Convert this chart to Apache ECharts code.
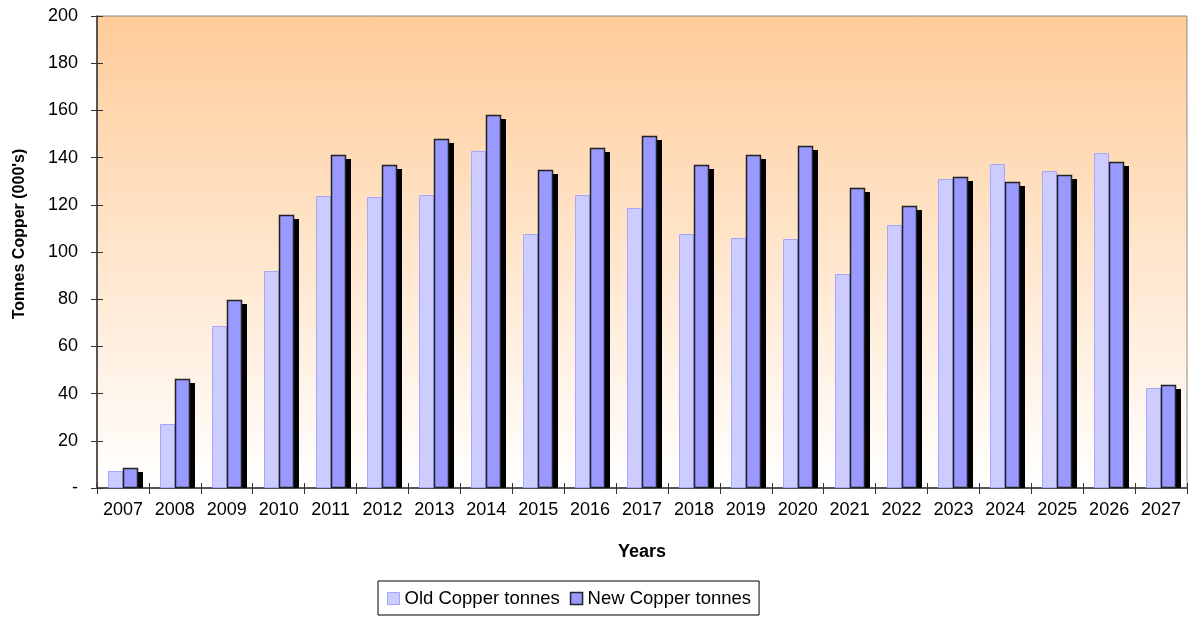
<!DOCTYPE html>
<html><head><meta charset="utf-8">
<script src="https://cdn.jsdelivr.net/npm/echarts@6/dist/echarts.min.js"></script>
<style>html,body{margin:0;padding:0;background:#fff}#c{width:1192px;height:619px}</style>
</head><body><div id="c"></div>
<script>
const years = ['2007','2008','2009','2010','2011','2012','2013','2014','2015','2016','2017','2018','2019','2020','2021','2022','2023','2024','2025','2026','2027'];
const oldCopper = [7, 27, 68.6, 92, 123.7, 123.3, 124.2, 142.8, 107.6, 124.2, 118.6, 107.6, 106, 105.5, 90.7, 111.4, 131, 137.3, 134.3, 142, 42.4];
const newCopper = [8.5, 46.2, 79.7, 115.7, 141.1, 136.9, 147.9, 158, 134.7, 144, 149.2, 136.9, 141.1, 144.9, 127.1, 119.5, 131.8, 129.7, 132.6, 138.1, 43.6];
const yTicks = [0, 20, 40, 60, 80, 100, 120, 140, 160, 180, 200];

const FONT = 'Liberation Sans, Arial, sans-serif';
const BAR_FRAC = 15 / 51.86;

function renderOld(params, api) {
  const top = api.coord([api.value(0), api.value(1)]);
  const base = api.coord([api.value(0), 0]);
  const w = api.size([1, 0])[0] * BAR_FRAC;
  return {
    type: 'rect',
    shape: { x: Math.round(top[0] - w) + 0.5, y: Math.round(top[1]) + 0.5, width: Math.round(w) - 1, height: Math.round(base[1] - top[1]) - 1 },
    style: { fill: '#CCCCFF', stroke: '#A6A6FF', lineWidth: 1 }
  };
}
function renderNew(params, api) {
  const top = api.coord([api.value(0), api.value(1)]);
  const base = api.coord([api.value(0), 0]);
  const w = api.size([1, 0])[0] * BAR_FRAC;
  const x = Math.round(top[0]);
  const y = Math.round(top[1]);
  const h = Math.round(base[1] - top[1]);
  const ww = Math.round(w);
  return {
    type: 'group',
    children: [
      { type: 'rect', shape: { x: x + 5, y: y + 4, width: ww, height: Math.max(h - 4, 0) }, style: { fill: '#000' } },
      { type: 'rect', shape: { x: x + 0.5, y: y + 0.5, width: ww - 1, height: h - 1 }, style: { fill: '#9999FF', stroke: '#222', lineWidth: 1.5 } }
    ]
  };
}

const chart = echarts.init(document.getElementById('c'), null, { renderer: 'canvas' });
chart.setOption({
  animation: false,
  textStyle: { fontFamily: FONT },
  grid: {
    left: 97, right: 5, top: 16, bottom: 131,
    outerBoundsMode: 'none', containLabel: false,
    show: true, borderColor: '#8c8c8c', borderWidth: 1,
    backgroundColor: { type: 'linear', x: 0, y: 0, x2: 0, y2: 1, colorStops: [{ offset: 0, color: '#FFCC99' }, { offset: 1, color: '#FFFFFF' }] }
  },
  legend: {
    left: 378, top: 581,
    padding: [8, 8, 7, 9],
    itemGap: 10, itemWidth: 12, itemHeight: 12,
    borderColor: '#000', borderWidth: 1,
    textStyle: { fontSize: 18.5, color: '#000', fontFamily: FONT },
    data: [
      { name: 'Old Copper tonnes', icon: 'rect', itemStyle: { color: '#CCCCFF', borderColor: '#A6A6FF', borderWidth: 1 } },
      { name: 'New Copper tonnes', icon: 'rect', itemStyle: { color: '#9999FF', borderColor: '#222', borderWidth: 1.5 } }
    ]
  },
  xAxis: [{
    type: 'category', data: years, boundaryGap: true,
    name: 'Years', nameLocation: 'middle', nameGap: 55,
    nameTextStyle: { fontSize: 18, fontWeight: 'bold', color: '#000', fontFamily: FONT },
    axisLine: { lineStyle: { color: '#333', width: 1.5 } },
    axisTick: { show: true, length: 6, lineStyle: { color: '#333' } },
    axisLabel: { fontSize: 18, color: '#000', margin: 13, fontFamily: FONT, interval: 0 },
    splitLine: { show: false }
  }, {
    type: 'category', data: years, position: 'bottom', boundaryGap: true,
    axisLine: { show: false },
    axisTick: { show: true, inside: true, length: 5, lineStyle: { color: '#333' } },
    axisLabel: { show: false }, splitLine: { show: false }
  }],
  yAxis: [{
    type: 'value', min: 0, max: 200, interval: 20,
    name: "Tonnes Copper (000's)", nameLocation: 'middle', nameGap: 69,
    nameTextStyle: { fontSize: 16, fontWeight: 'bold', color: '#000', fontFamily: FONT, padding: [0, 0, 0, 36] },
    axisLine: { show: true, lineStyle: { color: '#333', width: 1.5 } },
    axisTick: { show: true, length: 6, lineStyle: { color: '#333' } },
    axisLabel: { fontSize: 18, color: '#000', margin: 19, fontFamily: FONT, formatter: v => (v === 0 ? '-' : String(v)) },
    splitLine: { show: false }
  }, {
    type: 'value', min: 0, max: 200, interval: 20, position: 'left',
    axisLine: { show: false },
    axisTick: { show: true, inside: true, length: 6, lineStyle: { color: '#333' } },
    axisLabel: { show: false }, splitLine: { show: false }
  }],
  series: [{
    name: 'Old Copper tonnes', type: 'custom', renderItem: renderOld,
    itemStyle: { color: '#CCCCFF' },
    encode: { x: 0, y: 1 },
    data: oldCopper.map((v, i) => [i, v])
  }, {
    name: 'New Copper tonnes', type: 'custom', renderItem: renderNew,
    itemStyle: { color: '#9999FF' },
    encode: { x: 0, y: 1 },
    data: newCopper.map((v, i) => [i, v])
  }]
});
</script>
</body></html>
